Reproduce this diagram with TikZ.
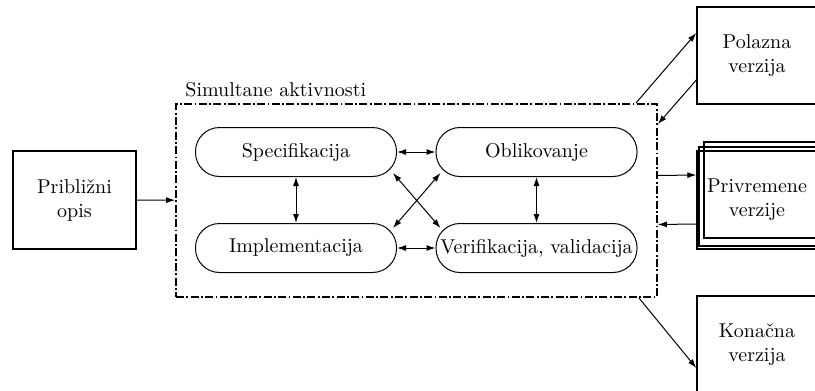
\documentclass[tikz,border=0pt]{standalone}
\usetikzlibrary{arrows.meta}
\begin{document}
\begin{tikzpicture}[x=0.5pt,y=-0.5pt,
  tip/.tip={Latex[length=4.5pt,width=3pt]},
  arr/.style={-tip, line width=0.5pt},
  darr/.style={tip-tip, line width=0.5pt},
  act/.style={draw, line width=0.5pt, rounded corners=12pt, minimum width=100.5pt, minimum height=24.5pt, inner sep=0pt, font=\normalsize},
  boxx/.style={draw, line width=0.7pt, align=center, inner sep=0pt},
  simbox/.style={draw, line width=0.9pt, dash pattern=on 4pt off 1.2pt on 0.9pt off 1.2pt, minimum width=240.5pt, minimum height=96.5pt, inner sep=0pt}
]
\useasboundingbox (0,0) rectangle (815,391);
\clip (0,0) rectangle (815,391);

% input box
\node[boxx, minimum width=61.5pt, minimum height=49pt] (pribl) at (74.5,200) {Približni\\opis};

% simultaneous activities
\node[simbox] (sim) at (416.5,200.5) {};
\node[anchor=base west, inner sep=0pt] (simlab) at (185,96) {Simultane aktivnosti};

\node[act] (spec) at (296,152) {Specifikacija};
\node[act] (obl) at (536.5,152) {Oblikovanje};
\node[act] (impl) at (296,248) {Implementacija};
\node[act] (ver) at (536.5,248) {Verifikacija, validacija};

\draw[darr] (spec) -- (obl);
\draw[darr] (impl) -- (ver);
\draw[darr] (spec.south) -- (impl.north);
\draw[darr] (obl.south) -- (ver.north);
\draw[darr] ([xshift=-2pt,yshift=2pt]spec.south east) -- ([xshift=2.5pt,yshift=-2.5pt]ver.north west);
\draw[darr] ([xshift=-2pt,yshift=-2.5pt]impl.north east) -- ([xshift=2.5pt,yshift=2pt]obl.south west);

% output boxes
\node[boxx, minimum width=60pt, minimum height=48.5pt] (pol) at (757,55.5) {Polazna\\verzija};

\draw[line width=0.6pt] (704,142) rectangle (830,238);
\draw[line width=0.6pt] (699,147) rectangle (830,246);
\node[boxx, minimum width=60pt, minimum height=49pt] (priv) at (757,200) {Privremene\\verzije};

\node[boxx, minimum width=60pt, minimum height=48.5pt] (kon) at (757,344.5) {Konačna\\verzija};

% connectors
\draw[arr] (pribl) -- (sim);
\draw[arr] ([xshift=-11pt]sim.north east) -- ([yshift=11.25pt]pol.west);
\draw[arr] ([yshift=-12.25pt]pol.west) -- ([yshift=-10.5pt]sim.north east);
\draw[arr] ([yshift=12.5pt]sim.east) -- ([yshift=12.5pt]priv.west);
\draw[arr] ([yshift=-12pt]priv.west) -- ([yshift=-12pt]sim.east);
\draw[arr] ([xshift=-9.5pt]sim.south east) -- ([yshift=-11.75pt]kon.west);
\end{tikzpicture}
\end{document}
